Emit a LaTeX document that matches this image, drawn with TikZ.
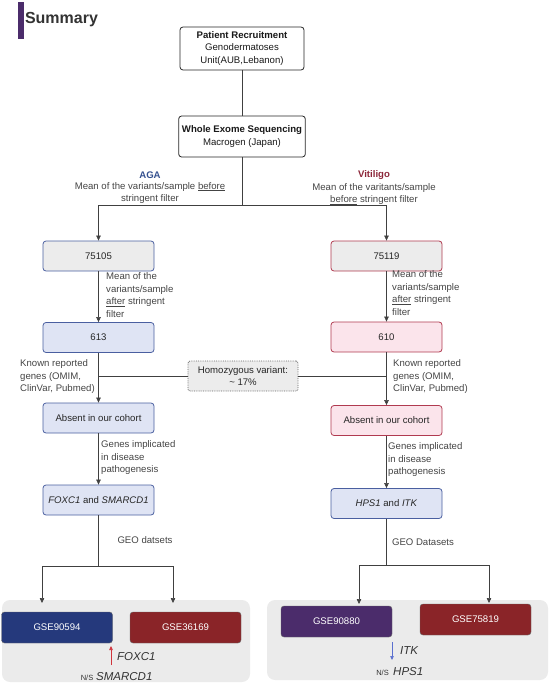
\documentclass[tikz,border=0pt]{standalone}
\usepackage{fontspec}
\setmainfont{Liberation Sans}
\usepackage{xcolor}
\usetikzlibrary{arrows.meta,positioning}

\definecolor{txtgray}{HTML}{444444}
\definecolor{agablue}{HTML}{34508F}
\definecolor{vitred}{HTML}{8C2639}
\definecolor{bluefill}{HTML}{DFE4F4}
\definecolor{blueline}{HTML}{4A5FA0}
\definecolor{pinkfill}{HTML}{FBE4EB}
\definecolor{redline}{HTML}{B03A50}
\definecolor{boxgray}{HTML}{ECECEC}
\definecolor{panelgray}{HTML}{EBEBEB}
\definecolor{navy}{HTML}{25397C}
\definecolor{darkred}{HTML}{8A2428}
\definecolor{plum}{HTML}{4B2C6B}
\definecolor{uparrow}{HTML}{D0343C}
\definecolor{downarrow}{HTML}{5A6FCF}

\begin{document}
\begin{tikzpicture}[x=1pt, y=-1pt,
    every node/.style={font=\fontsize{9.6}{12.5}\selectfont, text=txtgray},
    arr/.style={-{Triangle[length=5pt,width=4.5pt]}, semithick, black!75},
    link/.style={semithick, black!75},
    topbox/.style={draw=black!85, thick, rounded corners=3pt, fill=white,
      minimum width=124pt, minimum height=43pt, align=center, text=black!90},
    bluebox/.style={draw=blueline, thick, rounded corners=3pt, fill=bluefill,
      minimum width=111pt, minimum height=30pt, text=black!85},
    redbox/.style={draw=redline, thick, rounded corners=3pt, fill=pinkfill,
      minimum width=111pt, minimum height=30pt, text=black!85},
    gsebox/.style={rounded corners=3pt, minimum width=111pt, minimum height=31pt,
      text=white, draw=black!60},
    note/.style={align=left, anchor=north west, inner sep=0pt},
    gene/.style={font=\fontsize{11.5}{13}\selectfont\itshape, text=black!80, inner sep=0pt}]
  \useasboundingbox (0,0) rectangle (552,685);
  % title
  \fill[plum] (18,2) rectangle (23.5,39);
  \node[anchor=west, font=\fontsize{16}{19}\selectfont\bfseries, text=black!80] (title) at (21.5,20) {Summary};
  % bottom panels
  \fill[panelgray, rounded corners=8pt] (2,600) rectangle (250,682);
  \fill[panelgray, rounded corners=8pt] (267,600) rectangle (548,680);
  % top boxes
  \node[topbox] (recruit) at (242,48.5) {\textbf{Patient Recruitment}\\Genodermatoses\\Unit(AUB,Lebanon)};
  \node[topbox, minimum height=41pt] (wes) at (242,136.5) {\textbf{Whole Exome Sequencing}\\Macrogen (Japan)};
  \draw[link] (recruit) -- (wes);
  % group labels
  \node[font=\fontsize{9.6}{12.5}\selectfont\bfseries, text=agablue] (aga) at (150,175) {AGA};
  \node[align=center, below=0pt of aga, inner sep=0pt] (agabefore) {Mean of the variants/sample \underline{before}\\stringent filter};
  \node[font=\fontsize{9.6}{12.5}\selectfont\bfseries, text=vitred] (vit) at (374,175) {Vitiligo};
  \node[align=center, below=0pt of vit, inner sep=0pt] (vitbefore) {Mean of the varitants/sample\\\underline{before} stringent filter};
  % AGA column
  \node[bluebox, fill=boxgray] (aga1) at (98.5,256) {75105};
  \node[bluebox] (aga2) at (98.5,337.5) {613};
  \node[bluebox] (aga3) at (98.5,418) {Absent in our cohort};
  \node[bluebox] (aga4) at (98.5,500) {\textit{FOXC1} and \textit{SMARCD1}};
  % Vitiligo column
  \node[redbox, fill=boxgray] (vit1) at (386.5,256) {75119};
  \node[redbox] (vit2) at (386.5,337) {610};
  \node[redbox] (vit3) at (386.5,420.5) {Absent in our cohort};
  \node[bluebox] (vit4) at (386.5,503.5) {\textit{HPS1} and \textit{ITK}};
  % split after sequencing
  \coordinate (topsplit) at (242,205);
  \draw[link] (wes) -- (topsplit);
  \draw[arr] (topsplit) -| (aga1);
  \draw[arr] (topsplit) -| (vit1);
  % filters
  \draw[arr] (aga1) -- (aga2);
  \draw[arr] (vit1) -- (vit2);
  \node[note] (agaafter) at (106,272.5) {Mean of the\\variants/sample\\\underline{after} stringent\\filter};
  \node[note] (vitafter) at (392,270.5) {Mean of the\\variants/sample\\\underline{after} stringent\\filter};
  \draw[arr] (aga2) -- (aga3);
  \draw[arr] (vit2) -- (vit3);
  \node[note] (agaknown) at (20,359.5) {Known reported\\genes (OMIM,\\ClinVar, Pubmed)};
  \node[note] (vitknown) at (393,359.5) {Known reported\\genes (OMIM,\\ClinVar, Pubmed)};
  % homozygous
  \node[draw=black!60, densely dotted, thick, fill=boxgray, rounded corners=2pt, minimum width=110pt,
    minimum height=30pt, align=center, text=black!85] (homo) at (243,376) {Homozygous variant:\\\textasciitilde{} 17\%};
  \draw[link] (homo.west) -- (homo.west -| aga2.south);
  \draw[link] (homo.east) -- (homo.east -| vit2.south);
  % genes implicated
  \draw[arr] (aga3) -- (aga4);
  \draw[arr] (vit3) -- (vit4);
  \node[note] (agaimpl) at (101,440.5) {Genes implicated\\in disease\\pathogenesis};
  \node[note] (vitimpl) at (388,442.5) {Genes implicated\\in disease\\pathogenesis};
  % GEO datasets
  \node (agageo) at (145,540) {GEO datsets};
  \node (vitgeo) at (423,542) {GEO Datasets};
  \coordinate (agasplit) at (98.5,566);
  \coordinate (agaend1) at (42,603);
  \coordinate (agaend2) at (173,603);
  \coordinate (vitsplit) at (386.5,565);
  \coordinate (vitend1) at (359,604);
  \coordinate (vitend2) at (489,603);
  \draw[link] (aga4) -- (agasplit);
  \draw[arr] (agasplit) -| (agaend1);
  \draw[arr] (agasplit) -| (agaend2);
  \draw[link] (vit4) -- (vitsplit);
  \draw[arr] (vitsplit) -| (vitend1);
  \draw[arr] (vitsplit) -| (vitend2);
  % datasets
  \node[gsebox, fill=navy] (gse90594) at (57,627.5) {GSE90594};
  \node[gsebox, fill=darkred] (gse36169) at (185.5,627.5) {GSE36169};
  \node[gsebox, fill=plum] (gse90880) at (336.5,621.5) {GSE90880};
  \node[gsebox, fill=darkred] (gse75819) at (475.5,619.5) {GSE75819};
  % expression results
  \node[gene, anchor=west] (foxc) at (117,657) {FOXC1};
  \node[gene, anchor=west] (smarcd) at (96,677) {SMARCD1};
  \node[anchor=east, font=\fontsize{7.5}{9}\selectfont, text=black!80, inner sep=0pt] (agans) at (93.5,677.5) {N/S};
  \coordinate (upbottom) at (111,665);
  \coordinate (uptop) at (111,646);
  \draw[-{Triangle[length=4pt,width=3.5pt]}, uparrow, semithick] (upbottom) -- (uptop);
  \node[gene, anchor=west] (itk) at (400,651) {ITK};
  \node[gene, anchor=west] (hps) at (393,672) {HPS1};
  \node[anchor=east, font=\fontsize{7.5}{9}\selectfont, text=black!80, inner sep=0pt] (vitns) at (389,672.5) {N/S};
  \coordinate (downtop) at (392,642);
  \coordinate (downbottom) at (392,660);
  \draw[-{Triangle[length=4pt,width=3.5pt]}, downarrow, semithick] (downtop) -- (downbottom);
\end{tikzpicture}
\end{document}
